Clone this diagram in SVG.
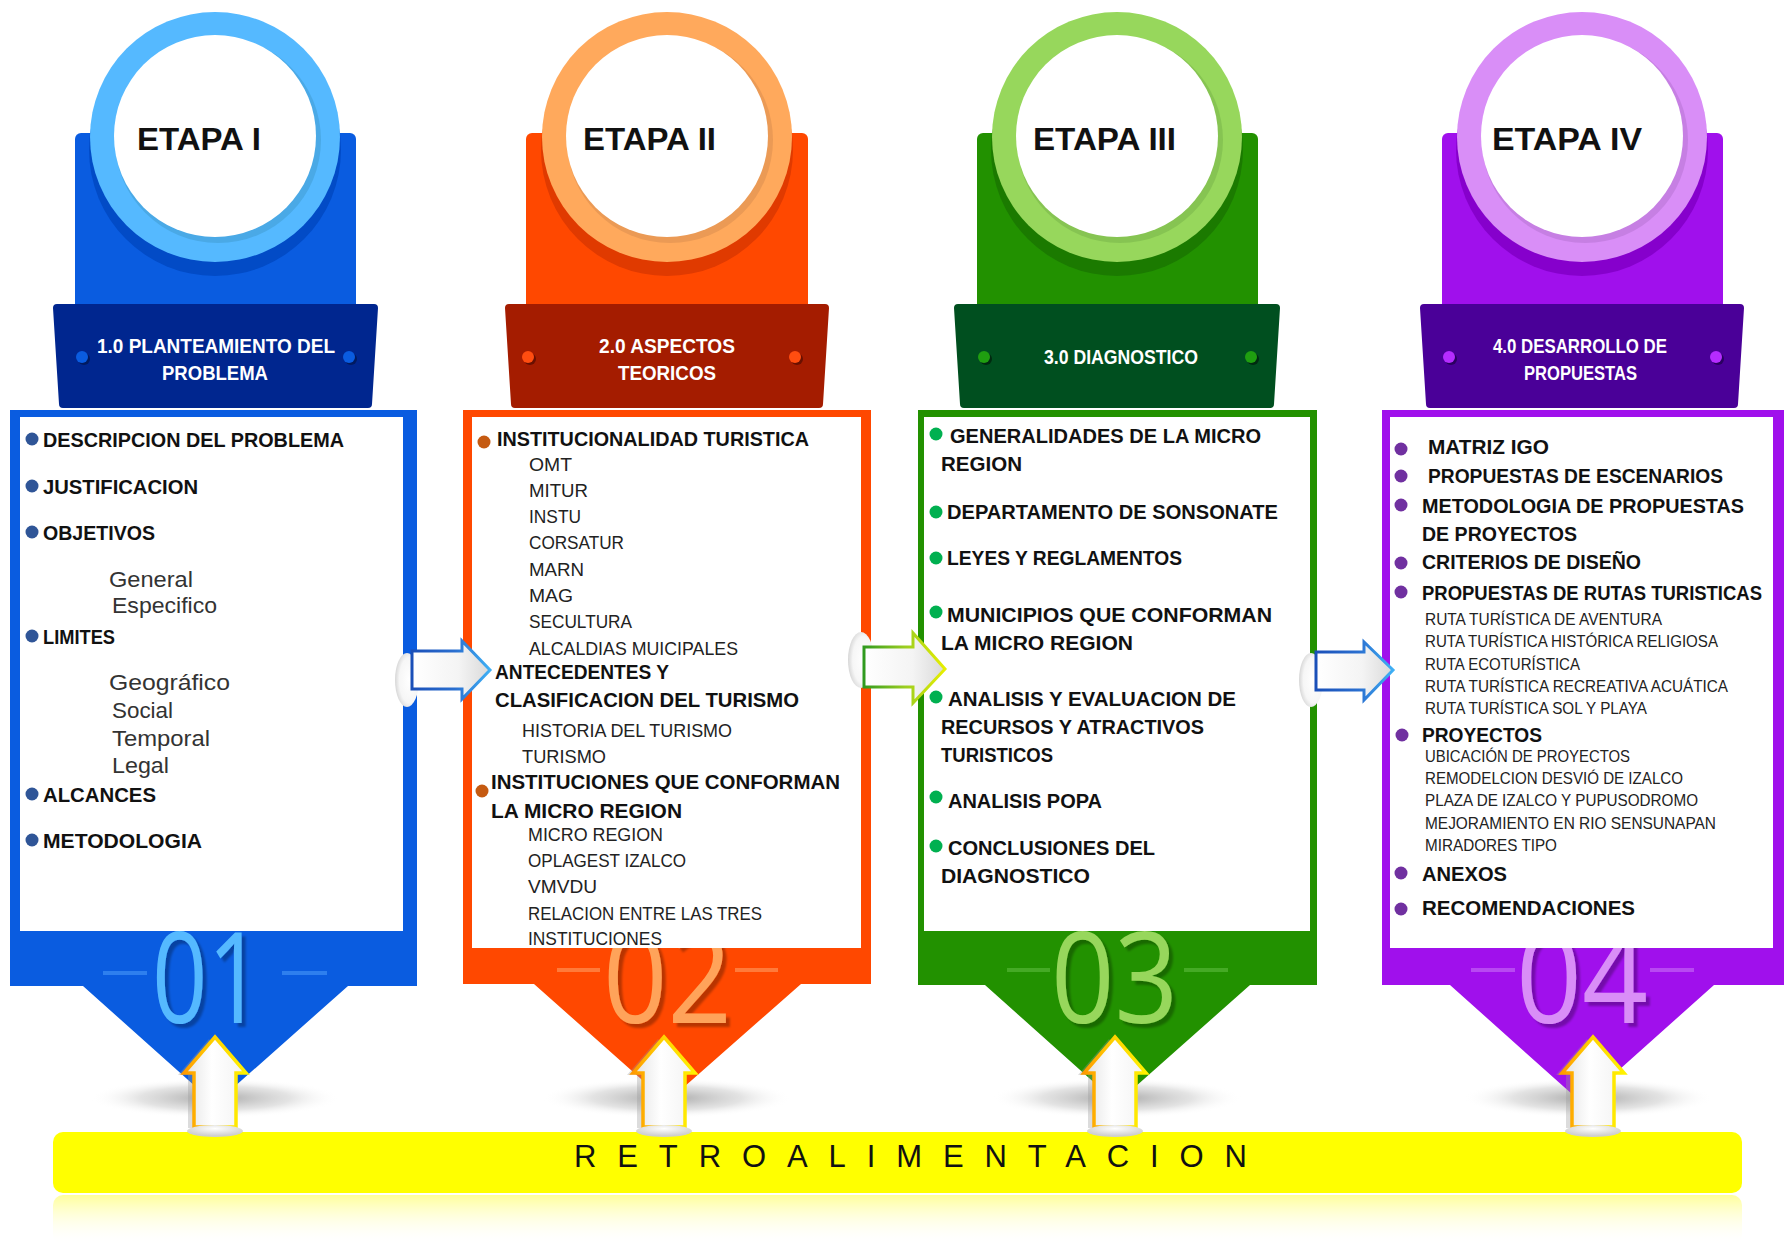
<svg xmlns="http://www.w3.org/2000/svg" xmlns:xlink="http://www.w3.org/1999/xlink" width="1785" height="1245" viewBox="0 0 1785 1245">
<style>
text{font-family:"Liberation Sans",Arial,sans-serif}
.head{font-weight:bold;font-size:31px;fill:#111}
.band{font-weight:bold;font-size:20px;fill:#fff}
.b{font-weight:bold;font-size:21px;fill:#111}
.r{font-size:19px;fill:#222}
.r1{font-size:22px;fill:#333}
.s{font-size:17px;fill:#222}
.num{font-family:"Open Sans","Liberation Sans",sans-serif;font-weight:normal;font-size:126px;filter:url(#ds)}
.retro{font-size:31px;fill:#111}
</style>
<defs>
<filter id="ds" x="-10%" y="-10%" width="130%" height="130%">
<feDropShadow dx="4" dy="4" stdDeviation="1.2" flood-color="#000" flood-opacity="0.28"/>
</filter>
<radialGradient id="shadow" cx="0.5" cy="0.5" r="0.5">
<stop offset="0" stop-color="#8a8a8a" stop-opacity="0.75"/>
<stop offset="0.6" stop-color="#b0b0b0" stop-opacity="0.35"/>
<stop offset="1" stop-color="#ffffff" stop-opacity="0"/>
</radialGradient>
<linearGradient id="upFill" x1="0" y1="0" x2="1" y2="0">
<stop offset="0" stop-color="#e2e2e2"/>
<stop offset="0.45" stop-color="#ffffff"/>
<stop offset="1" stop-color="#f2f2f2"/>
</linearGradient>
<linearGradient id="upStroke" x1="0" y1="0" x2="1" y2="0">
<stop offset="0" stop-color="#ff9a00"/>
<stop offset="0.5" stop-color="#ffd400"/>
<stop offset="1" stop-color="#fff200"/>
</linearGradient>
<radialGradient id="baseGrad" cx="0.5" cy="0.3" r="0.6">
<stop offset="0" stop-color="#ffffff"/>
<stop offset="1" stop-color="#cfcfcf"/>
</radialGradient>
<linearGradient id="hFill" x1="0" y1="0" x2="1" y2="0">
<stop offset="0" stop-color="#ffffff"/>
<stop offset="0.6" stop-color="#f4f4f4"/>
<stop offset="1" stop-color="#d9d9d9"/>
</linearGradient>
<linearGradient id="blueStroke" x1="0" y1="0" x2="1" y2="0">
<stop offset="0" stop-color="#1a4fb8"/>
<stop offset="0.55" stop-color="#2a6fd0"/>
<stop offset="1" stop-color="#3fb0f5"/>
</linearGradient>
<linearGradient id="greenStroke" x1="0" y1="0" x2="1" y2="0">
<stop offset="0" stop-color="#2f9a1f"/>
<stop offset="0.5" stop-color="#9acd20"/>
<stop offset="1" stop-color="#e8ef00"/>
</linearGradient>
<radialGradient id="glow" cx="0.6" cy="0.5" r="0.6">
<stop offset="0" stop-color="#ffffff"/>
<stop offset="0.7" stop-color="#f6f6f6"/>
<stop offset="1" stop-color="#d6d6d6"/>
</radialGradient>
<linearGradient id="reflect" x1="0" y1="0" x2="0" y2="1">
<stop offset="0" stop-color="#ffff80" stop-opacity="0.8"/>
<stop offset="1" stop-color="#ffffff" stop-opacity="0"/>
</linearGradient>
<g id="uparrow">
<polygon points="-6,1039 24,1075 15,1075 15,1128 -27,1128 -27,1075 -37,1075" fill="#9a9a9a" opacity="0.35"/>
<polygon points="0,1037 31,1073 21,1073 21,1127 -21,1127 -21,1073 -31,1073" fill="url(#upFill)" stroke="url(#upStroke)" stroke-width="3.5" stroke-linejoin="miter"/>
<ellipse cx="0" cy="1131" rx="28" ry="6" fill="url(#baseGrad)"/>
</g>
</defs>
<rect width="1785" height="1245" fill="#fff"/>

<g id="shadows">
<ellipse cx="215" cy="1098" rx="125" ry="20" fill="url(#shadow)"/>
<ellipse cx="667" cy="1098" rx="125" ry="20" fill="url(#shadow)"/>
<ellipse cx="1117" cy="1098" rx="125" ry="20" fill="url(#shadow)"/>
<ellipse cx="1588" cy="1098" rx="125" ry="20" fill="url(#shadow)"/>
</g>

<g id="etapa1">
<rect x="75" y="133" width="281" height="190" rx="6" fill="#0a5ce0"/>
<circle cx="215" cy="150" r="126" fill="#024bc6"/>
<circle cx="215" cy="137" r="125" fill="#55b9ff"/>
<circle cx="218" cy="140" r="103" fill="#4aa9e6"/>
<circle cx="215" cy="136" r="101" fill="#fff"/>
<text class="head" x="137" y="150" textLength="124" lengthAdjust="spacingAndGlyphs">ETAPA I</text>
<path d="M53,308 Q53,304 57,304 H374 Q378,304 378,308 L372,404 Q372,408 368,408 H63 Q59,408 59,404 Z" fill="#00268f"/>
<circle cx="84" cy="359" r="6" fill="#001a60"/><circle cx="82" cy="357" r="6" fill="#0a5ce0"/>
<circle cx="351" cy="359" r="6" fill="#001a60"/><circle cx="349" cy="357" r="6" fill="#0a5ce0"/>
<text class="band" x="97" y="353" textLength="238" lengthAdjust="spacingAndGlyphs">1.0 PLANTEAMIENTO DEL</text>
<text class="band" x="162" y="380" textLength="106" lengthAdjust="spacingAndGlyphs">PROBLEMA</text>
<path d="M10,410 H417 V986 H348 L215,1104 L83,986 H10 Z" fill="#0a5ce0"/>
<line x1="103" y1="973" x2="147" y2="973" stroke="#2e7fee" stroke-width="4"/>
<line x1="282" y1="973" x2="327" y2="973" stroke="#2e7fee" stroke-width="4"/>
<text class="num" x="152" y="1023" textLength="111" lengthAdjust="spacingAndGlyphs" fill="#55b9ff">01</text>
<rect x="20" y="417" width="383" height="514" fill="#fff"/>
<g fill="#2f5597">
<circle cx="32" cy="439" r="6.5"/><circle cx="32" cy="486" r="6.5"/><circle cx="32" cy="532" r="6.5"/>
<circle cx="32" cy="636" r="6.5"/><circle cx="32" cy="794" r="6.5"/><circle cx="32" cy="840" r="6.5"/>
</g>
<text class="b" x="43" y="447" textLength="301" lengthAdjust="spacingAndGlyphs">DESCRIPCION DEL PROBLEMA</text>
<text class="b" x="43" y="494" textLength="155" lengthAdjust="spacingAndGlyphs">JUSTIFICACION</text>
<text class="b" x="43" y="540" textLength="112" lengthAdjust="spacingAndGlyphs">OBJETIVOS</text>
<text class="r1" x="109" y="587" textLength="84" lengthAdjust="spacingAndGlyphs">General</text>
<text class="r1" x="112" y="613" textLength="105" lengthAdjust="spacingAndGlyphs">Especifico</text>
<text class="b" x="43" y="644" textLength="72" lengthAdjust="spacingAndGlyphs">LIMITES</text>
<text class="r1" x="109" y="690" textLength="121" lengthAdjust="spacingAndGlyphs">Geográfico</text>
<text class="r1" x="112" y="718" textLength="61" lengthAdjust="spacingAndGlyphs">Social</text>
<text class="r1" x="112" y="746" textLength="98" lengthAdjust="spacingAndGlyphs">Temporal</text>
<text class="r1" x="112" y="773" textLength="57" lengthAdjust="spacingAndGlyphs">Legal</text>
<text class="b" x="43" y="802" textLength="113" lengthAdjust="spacingAndGlyphs">ALCANCES</text>
<text class="b" x="43" y="848" textLength="159" lengthAdjust="spacingAndGlyphs">METODOLOGIA</text>
</g>

<g id="etapa2">
<rect x="526" y="133" width="282" height="190" rx="6" fill="#ff4800"/>
<circle cx="667" cy="150" r="126" fill="#e03a00"/>
<circle cx="667" cy="137" r="125" fill="#ffa95c"/>
<circle cx="670" cy="140" r="103" fill="#eb9a55"/>
<circle cx="667" cy="136" r="101" fill="#fff"/>
<text class="head" x="583" y="150" textLength="133" lengthAdjust="spacingAndGlyphs">ETAPA II</text>
<path d="M505,308 Q505,304 509,304 H825 Q829,304 829,308 L823,404 Q823,408 819,408 H515 Q511,408 511,404 Z" fill="#a41c00"/>
<circle cx="530" cy="359" r="6" fill="#6a1000"/><circle cx="528" cy="357" r="6" fill="#ff4d10"/>
<circle cx="797" cy="359" r="6" fill="#6a1000"/><circle cx="795" cy="357" r="6" fill="#ff4d10"/>
<text class="band" x="599" y="353" textLength="136" lengthAdjust="spacingAndGlyphs">2.0 ASPECTOS</text>
<text class="band" x="618" y="380" textLength="98" lengthAdjust="spacingAndGlyphs">TEORICOS</text>
<path d="M463,410 H871 V984 H801 L667,1102 L534,984 H463 Z" fill="#ff4800"/>
<line x1="557" y1="970" x2="600" y2="970" stroke="#ff7a3a" stroke-width="4"/>
<line x1="735" y1="970" x2="778" y2="970" stroke="#ff7a3a" stroke-width="4"/>
<text class="num" x="603" y="1023" textLength="129" lengthAdjust="spacingAndGlyphs" fill="#ffa35a">02</text>
<rect x="472" y="417" width="389" height="531" fill="#fff"/>
<g fill="#c55a11">
<circle cx="484" cy="442" r="6.5"/><circle cx="482" cy="791" r="6.5"/>
</g>
<text class="b" x="497" y="446" textLength="312" lengthAdjust="spacingAndGlyphs">INSTITUCIONALIDAD TURISTICA</text>
<text class="r" x="529" y="471" textLength="43" lengthAdjust="spacingAndGlyphs">OMT</text>
<text class="r" x="529" y="497" textLength="59" lengthAdjust="spacingAndGlyphs">MITUR</text>
<text class="r" x="529" y="523" textLength="52" lengthAdjust="spacingAndGlyphs">INSTU</text>
<text class="r" x="529" y="549" textLength="95" lengthAdjust="spacingAndGlyphs">CORSATUR</text>
<text class="r" x="529" y="576" textLength="55" lengthAdjust="spacingAndGlyphs">MARN</text>
<text class="r" x="529" y="602" textLength="44" lengthAdjust="spacingAndGlyphs">MAG</text>
<text class="r" x="529" y="628" textLength="103" lengthAdjust="spacingAndGlyphs">SECULTURA</text>
<text class="r" x="529" y="655" textLength="209" lengthAdjust="spacingAndGlyphs">ALCALDIAS MUICIPALES</text>
<text class="b" x="495" y="679" textLength="174" lengthAdjust="spacingAndGlyphs">ANTECEDENTES Y</text>
<text class="b" x="495" y="707" textLength="304" lengthAdjust="spacingAndGlyphs">CLASIFICACION DEL TURISMO</text>
<text class="r" x="522" y="737" textLength="210" lengthAdjust="spacingAndGlyphs">HISTORIA DEL TURISMO</text>
<text class="r" x="522" y="763" textLength="84" lengthAdjust="spacingAndGlyphs">TURISMO</text>
<text class="b" x="491" y="789" textLength="349" lengthAdjust="spacingAndGlyphs">INSTITUCIONES QUE CONFORMAN</text>
<text class="b" x="491" y="818" textLength="191" lengthAdjust="spacingAndGlyphs">LA MICRO REGION</text>
<text class="r" x="528" y="841" textLength="135" lengthAdjust="spacingAndGlyphs">MICRO REGION</text>
<text class="r" x="528" y="867" textLength="158" lengthAdjust="spacingAndGlyphs">OPLAGEST IZALCO</text>
<text class="r" x="528" y="893" textLength="69" lengthAdjust="spacingAndGlyphs">VMVDU</text>
<text class="r" x="528" y="920" textLength="234" lengthAdjust="spacingAndGlyphs">RELACION ENTRE LAS TRES</text>
<text class="r" x="528" y="945" textLength="134" lengthAdjust="spacingAndGlyphs">INSTITUCIONES</text>
</g>

<g id="etapa3">
<rect x="977" y="133" width="281" height="190" rx="6" fill="#229100"/>
<circle cx="1117" cy="150" r="126" fill="#1b7a00"/>
<circle cx="1117" cy="137" r="125" fill="#97d75c"/>
<circle cx="1120" cy="140" r="103" fill="#86c452"/>
<circle cx="1117" cy="136" r="101" fill="#fff"/>
<text class="head" x="1033" y="150" textLength="143" lengthAdjust="spacingAndGlyphs">ETAPA III</text>
<path d="M954,308 Q954,304 958,304 H1276 Q1280,304 1280,308 L1274,404 Q1274,408 1270,408 H964 Q960,408 960,404 Z" fill="#004f1f"/>
<circle cx="986" cy="359" r="6" fill="#002a10"/><circle cx="984" cy="357" r="6" fill="#1f9e10"/>
<circle cx="1253" cy="359" r="6" fill="#002a10"/><circle cx="1251" cy="357" r="6" fill="#1f9e10"/>
<text class="band" x="1044" y="364" textLength="154" lengthAdjust="spacingAndGlyphs">3.0 DIAGNOSTICO</text>
<path d="M918,410 H1317 V985 H1250 L1117,1103 L985,985 H918 Z" fill="#229100"/>
<line x1="1007" y1="970" x2="1050" y2="970" stroke="#45aa25" stroke-width="4"/>
<line x1="1184" y1="970" x2="1228" y2="970" stroke="#45aa25" stroke-width="4"/>
<text class="num" x="1051" y="1023" textLength="127" lengthAdjust="spacingAndGlyphs" fill="#97d75c">03</text>
<rect x="924" y="417" width="386" height="514" fill="#fff"/>
<g fill="#00b050">
<circle cx="936" cy="434" r="6.5"/><circle cx="936" cy="512" r="6.5"/><circle cx="936" cy="558" r="6.5"/>
<circle cx="936" cy="612" r="6.5"/><circle cx="936" cy="697" r="6.5"/><circle cx="936" cy="797" r="6.5"/>
<circle cx="936" cy="846" r="6.5"/>
</g>
<text class="b" x="950" y="443" textLength="311" lengthAdjust="spacingAndGlyphs">GENERALIDADES DE LA MICRO</text>
<text class="b" x="941" y="471" textLength="81" lengthAdjust="spacingAndGlyphs">REGION</text>
<text class="b" x="947" y="519" textLength="331" lengthAdjust="spacingAndGlyphs">DEPARTAMENTO DE SONSONATE</text>
<text class="b" x="947" y="565" textLength="235" lengthAdjust="spacingAndGlyphs">LEYES Y REGLAMENTOS</text>
<text class="b" x="947" y="622" textLength="325" lengthAdjust="spacingAndGlyphs">MUNICIPIOS QUE CONFORMAN</text>
<text class="b" x="941" y="650" textLength="192" lengthAdjust="spacingAndGlyphs">LA MICRO REGION</text>
<text class="b" x="948" y="706" textLength="288" lengthAdjust="spacingAndGlyphs">ANALISIS Y EVALUACION DE</text>
<text class="b" x="941" y="734" textLength="263" lengthAdjust="spacingAndGlyphs">RECURSOS Y ATRACTIVOS</text>
<text class="b" x="941" y="762" textLength="112" lengthAdjust="spacingAndGlyphs">TURISTICOS</text>
<text class="b" x="948" y="808" textLength="154" lengthAdjust="spacingAndGlyphs">ANALISIS POPA</text>
<text class="b" x="948" y="855" textLength="207" lengthAdjust="spacingAndGlyphs">CONCLUSIONES DEL</text>
<text class="b" x="941" y="883" textLength="149" lengthAdjust="spacingAndGlyphs">DIAGNOSTICO</text>
</g>

<g id="etapa4">
<rect x="1442" y="133" width="281" height="190" rx="6" fill="#a010ec"/>
<circle cx="1582" cy="150" r="126" fill="#8600cc"/>
<circle cx="1582" cy="137" r="125" fill="#d98ef7"/>
<circle cx="1585" cy="140" r="103" fill="#c67fe3"/>
<circle cx="1582" cy="136" r="101" fill="#fff"/>
<text class="head" x="1492" y="150" textLength="150" lengthAdjust="spacingAndGlyphs">ETAPA IV</text>
<path d="M1420,308 Q1420,304 1424,304 H1740 Q1744,304 1744,308 L1738,404 Q1738,408 1734,408 H1430 Q1426,408 1426,404 Z" fill="#4a0098"/>
<circle cx="1451" cy="359" r="6" fill="#2a0060"/><circle cx="1449" cy="357" r="6" fill="#b52cff"/>
<circle cx="1718" cy="359" r="6" fill="#2a0060"/><circle cx="1716" cy="357" r="6" fill="#b52cff"/>
<text class="band" x="1493" y="353" textLength="174" lengthAdjust="spacingAndGlyphs">4.0 DESARROLLO DE</text>
<text class="band" x="1524" y="380" textLength="113" lengthAdjust="spacingAndGlyphs">PROPUESTAS</text>
<path d="M1382,410 H1784 V985 H1714 L1582,1103 L1450,985 H1382 Z" fill="#a010ec"/>
<line x1="1471" y1="970" x2="1515" y2="970" stroke="#b848f2" stroke-width="4"/>
<line x1="1650" y1="970" x2="1694" y2="970" stroke="#b848f2" stroke-width="4"/>
<text class="num" x="1516" y="1023" textLength="132" lengthAdjust="spacingAndGlyphs" fill="#d98ef7">04</text>
<rect x="1390" y="417" width="383" height="531" fill="#fff"/>
<g fill="#7030a0">
<circle cx="1401" cy="449" r="6.5"/><circle cx="1401" cy="476" r="6.5"/><circle cx="1401" cy="505" r="6.5"/>
<circle cx="1401" cy="563" r="6.5"/><circle cx="1401" cy="592" r="6.5"/><circle cx="1402" cy="735" r="6.5"/>
<circle cx="1401" cy="873" r="6.5"/><circle cx="1401" cy="909" r="6.5"/>
</g>
<text class="b" x="1428" y="454" textLength="121" lengthAdjust="spacingAndGlyphs">MATRIZ IGO</text>
<text class="b" x="1428" y="483" textLength="295" lengthAdjust="spacingAndGlyphs">PROPUESTAS DE ESCENARIOS</text>
<text class="b" x="1422" y="513" textLength="322" lengthAdjust="spacingAndGlyphs">METODOLOGIA DE PROPUESTAS</text>
<text class="b" x="1422" y="541" textLength="155" lengthAdjust="spacingAndGlyphs">DE PROYECTOS</text>
<text class="b" x="1422" y="569" textLength="219" lengthAdjust="spacingAndGlyphs">CRITERIOS DE DISEÑO</text>
<text class="b" x="1422" y="600" textLength="340" lengthAdjust="spacingAndGlyphs">PROPUESTAS DE RUTAS TURISTICAS</text>
<text class="s" x="1425" y="625" textLength="237" lengthAdjust="spacingAndGlyphs">RUTA TURÍSTICA DE AVENTURA</text>
<text class="s" x="1425" y="647" textLength="293" lengthAdjust="spacingAndGlyphs">RUTA TURÍSTICA HISTÓRICA RELIGIOSA</text>
<text class="s" x="1425" y="670" textLength="155" lengthAdjust="spacingAndGlyphs">RUTA ECOTURÍSTICA</text>
<text class="s" x="1425" y="692" textLength="303" lengthAdjust="spacingAndGlyphs">RUTA TURÍSTICA RECREATIVA ACUÁTICA</text>
<text class="s" x="1425" y="714" textLength="222" lengthAdjust="spacingAndGlyphs">RUTA TURÍSTICA SOL Y PLAYA</text>
<text class="b" x="1422" y="742" textLength="120" lengthAdjust="spacingAndGlyphs">PROYECTOS</text>
<text class="s" x="1425" y="762" textLength="205" lengthAdjust="spacingAndGlyphs">UBICACIÓN DE PROYECTOS</text>
<text class="s" x="1425" y="784" textLength="258" lengthAdjust="spacingAndGlyphs">REMODELCION DESVIÓ DE IZALCO</text>
<text class="s" x="1425" y="806" textLength="273" lengthAdjust="spacingAndGlyphs">PLAZA DE IZALCO Y PUPUSODROMO</text>
<text class="s" x="1425" y="829" textLength="291" lengthAdjust="spacingAndGlyphs">MEJORAMIENTO EN RIO SENSUNAPAN</text>
<text class="s" x="1425" y="851" textLength="132" lengthAdjust="spacingAndGlyphs">MIRADORES TIPO</text>
<text class="b" x="1422" y="881" textLength="85" lengthAdjust="spacingAndGlyphs">ANEXOS</text>
<text class="b" x="1422" y="915" textLength="213" lengthAdjust="spacingAndGlyphs">RECOMENDACIONES</text>
</g>

<g id="retroalimentacion">
<rect x="53" y="1195" width="1689" height="50" rx="10" fill="url(#reflect)"/>
<rect x="53" y="1132" width="1689" height="61" rx="10" fill="#ffff00"/>
<text class="retro" x="574" y="1167" textLength="673" lengthAdjust="spacing">RETROALIMENTACION</text>
</g>

<g id="connectors">
<g id="arrow-1-2">
<ellipse cx="407" cy="680" rx="12" ry="27" fill="url(#glow)"/>
<polygon points="412,651 462,651 462,641 490,670 462,699 462,689 412,689" fill="url(#hFill)" stroke="url(#blueStroke)" stroke-width="3"/>
</g>
<g id="arrow-2-3">
<ellipse cx="861" cy="660" rx="13" ry="28" fill="url(#glow)"/>
<polygon points="864,647 913,647 913,633 945,669 913,703 913,687 864,687" fill="url(#hFill)" stroke="url(#greenStroke)" stroke-width="3"/>
</g>
<g id="arrow-3-4">
<ellipse cx="1311" cy="680" rx="12" ry="27" fill="url(#glow)"/>
<polygon points="1316,652 1364,652 1364,642 1393,670 1364,700 1364,690 1316,690" fill="url(#hFill)" stroke="url(#blueStroke)" stroke-width="3"/>
</g>
<use xlink:href="#uparrow" x="215" y="0"/>
<use xlink:href="#uparrow" x="664" y="0"/>
<use xlink:href="#uparrow" x="1115" y="0"/>
<use xlink:href="#uparrow" x="1593" y="0"/>
</g>
</svg>
